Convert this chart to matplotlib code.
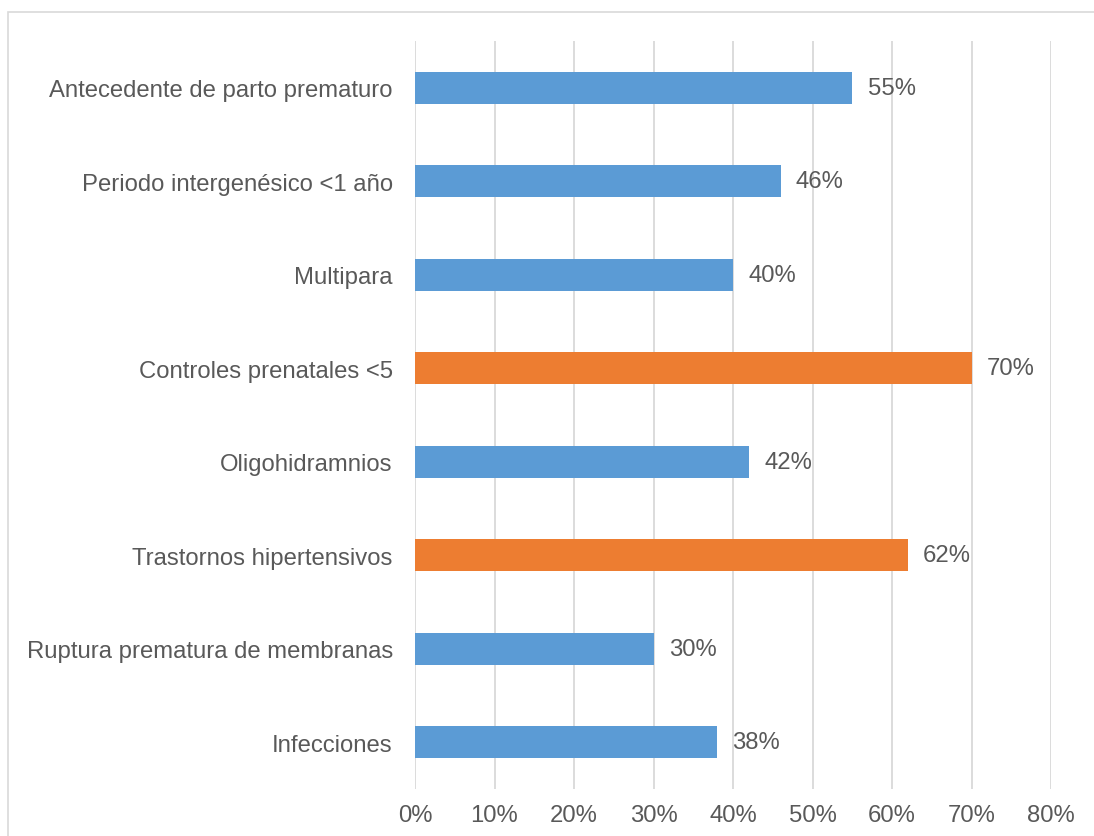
import matplotlib
matplotlib.use("Agg")
import matplotlib.pyplot as plt
from matplotlib.patches import Rectangle
from matplotlib.ticker import FuncFormatter

# Factores de riesgo, de arriba hacia abajo
factores = [
    "Antecedente de parto prematuro",
    "Periodo intergenésico <1 año",
    "Multipara",
    "Controles prenatales <5",
    "Oligohidramnios",
    "Trastornos hipertensivos",
    "Ruptura prematura de membranas",
    "Infecciones",
]
porcentajes = [55, 46, 40, 70, 42, 62, 30, 38]
destacados = [False, False, False, True, False, True, False, False]

AZUL = "#5B9BD5"
NARANJA = "#ED7D31"
TEXTO = "#595959"
REJILLA = "#D9D9D9"
TAM = 17.2

plt.rcParams["font.family"] = ["Liberation Sans", "DejaVu Sans"]

fig = plt.figure(figsize=(10.94, 8.37), dpi=100, facecolor="white")
ax = fig.add_axes([415 / 1094, 1 - 790 / 837, (1051 - 415) / 1094, (790 - 42) / 837])

# marco exterior del grafico
fig.add_artist(Rectangle((8 / 1094, -0.1), 1.2, 1 - 13 / 837 + 0.1,
                         transform=fig.transFigure, fill=False,
                         edgecolor=REJILLA, linewidth=1.2))

pos = list(range(len(factores)))
colores = [NARANJA if d else AZUL for d in destacados]
ax.barh(pos, porcentajes, height=0.345, color=colores, zorder=3)

for y, v in zip(pos, porcentajes):
    ax.annotate(f"{v}%", (v, y), xytext=(11, 0), textcoords="offset points",
                va="center", ha="left", fontsize=TAM, color=TEXTO, zorder=4)

ax.set_xlim(0, 80)
ax.set_ylim(len(factores) - 0.5, -0.5)
ax.set_xticks(range(0, 81, 10))
ax.xaxis.set_major_formatter(FuncFormatter(lambda x, _: f"{x:.0f}%"))
ax.set_yticks(pos)
ax.set_yticklabels(factores)

ax.grid(axis="x", color=REJILLA, linewidth=1.3, zorder=0)
ax.tick_params(axis="both", length=0, labelsize=TAM, labelcolor=TEXTO)
ax.tick_params(axis="y", pad=16)
ax.tick_params(axis="x", pad=11)
for s in ax.spines.values():
    s.set_visible(False)

fig.savefig("out.png", dpi=100, facecolor="white")
